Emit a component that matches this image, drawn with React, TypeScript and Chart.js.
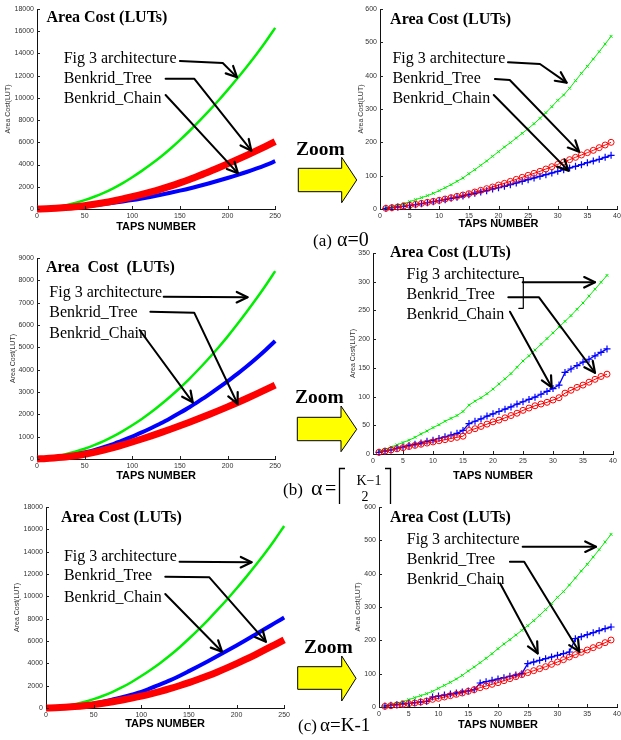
import React, { useEffect, useRef } from "react";
import { Chart, registerables } from "chart.js";

Chart.register(...registerables);

// ---------------- data ----------------
const TAPS_FULL = [0, 10, 20, 30, 40, 50, 60, 70, 80, 90, 100, 110, 120, 130, 140, 150, 160, 170, 180, 190, 200, 210, 220, 230, 240, 250];
const TAPS_ZOOM = [1, 2, 3, 4, 5, 6, 7, 8, 9, 10, 11, 12, 13, 14, 15, 16, 17, 18, 19, 20, 21, 22, 23, 24, 25, 26, 27, 28, 29, 30, 31, 32, 33, 34, 35, 36, 37, 38, 39];

// (a) alpha = 0
const A_FIG3_FULL = [0, 55, 172, 326, 540, 800, 1100, 1450, 1860, 2330, 2860, 3430, 4040, 4700, 5420, 6200, 7020, 7880, 8780, 9720, 10700, 11720, 12780, 13880, 15050, 16300];
const A_TREE_FULL = [0, 26, 72, 134, 208, 300, 420, 560, 720, 900, 1100, 1310, 1540, 1790, 2060, 2350, 2660, 2990, 3330, 3690, 4060, 4440, 4830, 5230, 5640, 6060];
const A_CHAIN_FULL = [0, 25, 64, 113, 167, 250, 340, 440, 550, 670, 800, 950, 1110, 1280, 1460, 1650, 1850, 2070, 2300, 2540, 2790, 3050, 3330, 3630, 3950, 4300];
const A_FIG3_ZOOM = [3, 7, 11, 16, 22, 28, 34, 40, 47, 55, 64, 73, 83, 93, 106, 118, 131, 144, 158, 172, 186, 199, 213, 227, 241, 256, 272, 289, 307, 326, 342, 362, 385, 407, 428, 450, 472, 495, 518];
const A_TREE_ZOOM = [2, 4, 6, 9, 11, 14, 17, 20, 23, 26, 30, 34, 38, 42, 46, 51, 56, 61, 66, 72, 77, 83, 89, 95, 101, 107, 113, 120, 127, 134, 141, 148, 155, 162, 169, 176, 184, 192, 200];
const A_CHAIN_ZOOM = [2, 4, 6, 8, 11, 13, 16, 19, 22, 25, 28, 32, 35, 39, 43, 47, 51, 55, 60, 64, 68, 73, 78, 83, 88, 93, 98, 103, 108, 113, 118, 123, 128, 133, 139, 144, 149, 155, 161];

// (b) alpha = ceil((K-1)/2)
const B_FIG3_FULL = [0, 46, 113, 211, 323, 460, 620, 800, 1010, 1250, 1510, 1790, 2100, 2440, 2800, 3180, 3590, 4030, 4490, 4970, 5480, 6020, 6580, 7160, 7770, 8410];
const B_TREE_FULL = [0, 21, 56, 94, 144, 215, 300, 400, 510, 630, 760, 895, 1035, 1180, 1330, 1485, 1645, 1810, 1980, 2155, 2335, 2520, 2710, 2905, 3105, 3310];
const B_CHAIN_FULL = [0, 24, 70, 114, 188, 290, 400, 530, 670, 830, 1000, 1190, 1390, 1600, 1830, 2070, 2320, 2590, 2870, 3170, 3480, 3800, 4140, 4500, 4880, 5280];
const B_FIG3_ZOOM = [5, 8, 12, 16, 20, 24, 29, 35, 40, 46, 51, 57, 62, 67, 74, 85, 92, 98, 105, 113, 122, 131, 140, 151, 162, 171, 181, 191, 201, 211, 221, 231, 241, 252, 263, 275, 287, 299, 311];
const B_TREE_ZOOM = [3, 5, 7, 9, 11, 13, 15, 17, 19, 21, 23, 25, 27, 29, 31, 41, 44, 48, 52, 56, 59, 63, 67, 71, 76, 80, 84, 87, 90, 94, 98, 106, 111, 116, 120, 125, 130, 135, 139];
const B_CHAIN_ZOOM = [3, 5, 7, 10, 12, 15, 17, 19, 22, 24, 27, 30, 33, 36, 41, 53, 57, 61, 66, 70, 74, 78, 82, 87, 91, 95, 99, 104, 109, 114, 120, 142, 148, 154, 160, 165, 171, 177, 183];

// (c) alpha = K-1
const C_FIG3_FULL = [0, 55, 172, 326, 540, 800, 1100, 1450, 1860, 2330, 2860, 3430, 4040, 4700, 5420, 6200, 7020, 7880, 8780, 9720, 10700, 11720, 12780, 13880, 15050, 16300];
const C_TREE_FULL = [0, 26, 72, 134, 208, 300, 420, 560, 720, 890, 1070, 1270, 1490, 1730, 1990, 2270, 2570, 2890, 3230, 3590, 3970, 4370, 4790, 5220, 5660, 6100];
const C_CHAIN_FULL = [0, 30, 84, 155, 245, 390, 560, 760, 970, 1200, 1440, 1770, 2110, 2470, 2870, 3300, 3740, 4190, 4650, 5120, 5600, 6090, 6590, 7090, 7600, 8100];
const C_FIG3_ZOOM = [3, 7, 11, 16, 22, 28, 34, 40, 47, 56, 65, 74, 84, 95, 108, 120, 133, 146, 160, 175, 189, 202, 216, 230, 244, 259, 275, 292, 310, 329, 346, 366, 387, 408, 428, 450, 472, 495, 518];
const C_TREE_ZOOM = [2, 4, 6, 8, 10, 12, 15, 18, 23, 26, 30, 34, 38, 42, 47, 52, 58, 63, 68, 73, 79, 85, 91, 97, 103, 109, 115, 121, 128, 135, 142, 150, 157, 164, 171, 178, 185, 193, 201];
const C_CHAIN_ZOOM = [3, 5, 7, 9, 11, 13, 15, 17, 30, 33, 36, 39, 42, 45, 48, 52, 72, 76, 80, 84, 88, 92, 96, 100, 130, 135, 140, 145, 150, 155, 160, 165, 205, 211, 217, 223, 229, 235, 240];

const FULL_X_TICKS = { min: 0, max: 250, step: 50 };
const ZOOM_X_TICKS = { min: 0, max: 40, step: 5 };

const LABEL_FIG3 = "Fig 3 architecture";
const LABEL_TREE = "Benkrid_Tree";
const LABEL_CHAIN = "Benkrid_Chain";

// ---------------- plugin: inward ticks + annotations ----------------
const annotPlugin = {
  id: "annot",
  afterDatasetsDraw(chart: any, _args: any, opts: any) {
    const { ctx, chartArea, scales } = chart;
    const xs = scales.x;
    const ys = scales.y;
    const X = (v: number) => xs.getPixelForValue(v);
    const Y = (v: number) => ys.getPixelForValue(v);
    ctx.save();
    // inward tick marks (MATLAB style)
    ctx.strokeStyle = "#222";
    ctx.lineWidth = 1;
    ctx.beginPath();
    xs.ticks.forEach((t: any) => {
      const px = Math.round(X(t.value)) + 0.5;
      ctx.moveTo(px, chartArea.bottom);
      ctx.lineTo(px, chartArea.bottom - 3);
    });
    ys.ticks.forEach((t: any) => {
      const py = Math.round(Y(t.value)) + 0.5;
      ctx.moveTo(chartArea.left, py);
      ctx.lineTo(chartArea.left + 3, py);
    });
    ctx.stroke();

    if (!opts || !opts.title) {
      ctx.restore();
      return;
    }
    ctx.fillStyle = "#000";
    ctx.textAlign = "left";
    ctx.textBaseline = "middle";
    ctx.font = 'bold 16px "Liberation Serif"';
    ctx.fillText(opts.title.text, X(opts.title.x), Y(opts.title.y));
    ctx.font = '16px "Liberation Serif"';
    for (const l of opts.labels) ctx.fillText(l.text, X(l.x), Y(l.y));

    ctx.strokeStyle = "#000";
    ctx.lineCap = "round";
    ctx.lineJoin = "round";
    ctx.lineWidth = 2;
    for (const pts of opts.arrows) {
      ctx.beginPath();
      pts.forEach((p: number[], i: number) => {
        const px = X(p[0]);
        const py = Y(p[1]);
        if (i === 0) ctx.moveTo(px, py);
        else ctx.lineTo(px, py);
      });
      ctx.stroke();
      const a = pts[pts.length - 2];
      const b = pts[pts.length - 1];
      const ax = X(a[0]), ay = Y(a[1]), bx = X(b[0]), by = Y(b[1]);
      const ang = Math.atan2(by - ay, bx - ax);
      const L = 12, spread = 0.45;
      ctx.lineWidth = 2.2;
      ctx.beginPath();
      ctx.moveTo(bx - L * Math.cos(ang - spread), by - L * Math.sin(ang - spread));
      ctx.lineTo(bx, by);
      ctx.lineTo(bx - L * Math.cos(ang + spread), by - L * Math.sin(ang + spread));
      ctx.stroke();
      ctx.lineWidth = 2;
    }
    ctx.lineWidth = 1.2;
    for (const pts of opts.lines || []) {
      ctx.beginPath();
      pts.forEach((p: number[], i: number) => {
        const px = X(p[0]);
        const py = Y(p[1]);
        if (i === 0) ctx.moveTo(px, py);
        else ctx.lineTo(px, py);
      });
      ctx.stroke();
    }
    ctx.restore();
  },
};

// ---------------- panel specs ----------------
const PAD_TOP = 14;

type Series = { fig3: number[]; tree: number[]; chain: number[] };

interface PanelSpec {
  key: string;
  zoom: boolean;
  taps: number[];
  series: Series;
  xTicks: { min: number; max: number; step: number };
  yMax: number;
  yStep: number;
  box: { L: number; T: number; R: number; B: number; ytX: number; xtY: number };
  annot: any;
}

const labelsAt = (x: number, ys: number[]) => [
  { x, y: ys[0], text: LABEL_FIG3 },
  { x, y: ys[1], text: LABEL_TREE },
  { x, y: ys[2], text: LABEL_CHAIN },
];

const PANELS: PanelSpec[] = [
  {
    key: "aL", zoom: false, taps: TAPS_FULL,
    series: { fig3: A_FIG3_FULL, tree: A_TREE_FULL, chain: A_CHAIN_FULL },
    xTicks: FULL_X_TICKS, yMax: 18000, yStep: 2000,
    box: { L: 37, T: 9, R: 276, B: 209, ytX: 8.3, xtY: 227 },
    annot: {
      title: { x: 10, y: 17160, text: "Area Cost (LUTs)" },
      labels: labelsAt(28, [13500, 11700, 9900]),
      arrows: [
        [[150, 13320], [195, 13140], [210, 11850]],
        [[135, 11730], [165, 11730], [225, 5250]],
        [[135, 10260], [211, 3210]],
      ],
    },
  },
  {
    key: "aR", zoom: true, taps: TAPS_ZOOM,
    series: { fig3: A_FIG3_ZOOM, tree: A_TREE_ZOOM, chain: A_CHAIN_ZOOM },
    xTicks: ZOOM_X_TICKS, yMax: 600, yStep: 100,
    box: { L: 380, T: 9, R: 617, B: 209, ytX: 360.7, xtY: 224 },
    annot: {
      title: { x: 1.7, y: 567, text: "Area Cost (LUTs)" },
      labels: labelsAt(2.1, [450, 392, 330]),
      arrows: [
        [[21.6, 440], [27, 435], [31.5, 379]],
        [[19.4, 390], [21.9, 387], [33.6, 172]],
        [[19.2, 342], [31.8, 115]],
      ],
    },
  },
  {
    key: "bL", zoom: false, taps: TAPS_FULL,
    series: { fig3: B_FIG3_FULL, tree: B_TREE_FULL, chain: B_CHAIN_FULL },
    xTicks: FULL_X_TICKS, yMax: 9000, yStep: 1000,
    box: { L: 37, T: 258, R: 276, B: 459, ytX: 12.7, xtY: 476 },
    annot: {
      title: { x: 9.4, y: 8540, text: "Area  Cost  (LUTs)" },
      labels: labelsAt(12.9, [7447, 6525, 5584]),
      arrows: [
        [[133, 7268], [221, 7241]],
        [[119, 6596], [165, 6551], [210.6, 2463]],
        [[107.7, 5777], [163.5, 2539]],
      ],
    },
  },
  {
    key: "bR", zoom: true, taps: TAPS_ZOOM,
    series: { fig3: B_FIG3_ZOOM, tree: B_TREE_ZOOM, chain: B_CHAIN_ZOOM },
    xTicks: ZOOM_X_TICKS, yMax: 350, yStep: 50,
    box: { L: 373, T: 253, R: 613, B: 454, ytX: 353.3, xtY: 476.7 },
    annot: {
      title: { x: 2.83, y: 350, text: "Area Cost (LUTs)" },
      labels: labelsAt(5.6, [311.6, 276.8, 242]),
      arrows: [
        [[24.95, 299], [37, 299]],
        [[22.55, 272.8], [27.67, 272.8], [37, 141.5]],
        [[22.83, 247.7], [29.78, 116.1]],
      ],
      lines: [[[24.3, 307.3], [25.05, 307.3], [25.05, 253.7], [24.3, 253.7]]],
    },
  },
  {
    key: "cL", zoom: false, taps: TAPS_FULL,
    series: { fig3: C_FIG3_FULL, tree: C_TREE_FULL, chain: C_CHAIN_FULL },
    xTicks: FULL_X_TICKS, yMax: 18000, yStep: 2000,
    box: { L: 46, T: 507, R: 285, B: 708, ytX: 16.7, xtY: 724.7 },
    annot: {
      title: { x: 15.7, y: 17060, text: "Area Cost (LUTs)" },
      labels: labelsAt(18.8, [13549, 11821, 9913]),
      arrows: [
        [[140.2, 13101], [215.8, 13047]],
        [[125.2, 11758], [171.5, 11704], [230.8, 5937]],
        [[125.2, 10209], [184.8, 5042]],
      ],
    },
  },
  {
    key: "cR", zoom: true, taps: TAPS_ZOOM,
    series: { fig3: C_FIG3_ZOOM, tree: C_TREE_ZOOM, chain: C_CHAIN_ZOOM },
    xTicks: ZOOM_X_TICKS, yMax: 600, yStep: 100,
    box: { L: 379, T: 507, R: 617, B: 707, ytX: 358.3, xtY: 725 },
    annot: {
      title: { x: 1.85, y: 567, text: "Area Cost (LUTs)" },
      labels: labelsAt(4.66, [503, 441, 381]),
      arrows: [
        [[24.15, 481], [36.47, 481]],
        [[22, 436], [24.4, 436], [33.66, 166]],
        [[20.34, 371], [26.67, 161]],
      ],
    },
  },
];

function geometry(b: PanelSpec["box"]) {
  const cl = Math.round(b.ytX - 4.2);
  const ct = b.T - PAD_TOP;
  const yW = b.L - cl;
  const cw = Math.ceil(b.R + 8 - cl);
  const padRight = cl + cw - b.R;
  const ch = Math.round(b.xtY + 6.6 - ct);
  const xH = ch - (b.B - ct);
  return { cl, ct, cw, ch, yW, xH, padRight };
}

const RED = "#ff0000";
const BLUE = "#0000ff";
const GREEN = "#00ee00";

function buildConfig(p: PanelSpec) {
  const g = geometry(p.box);
  const pts = (vals: number[]) => p.taps.map((t, i) => ({ x: t, y: vals[i] }));
  const datasets = p.zoom
    ? [
        {
          data: pts(p.series.tree), borderColor: RED, borderWidth: 1, order: 0,
          pointStyle: "circle", pointRadius: 3, pointBorderWidth: 1,
          pointBorderColor: RED, pointBackgroundColor: "rgba(0,0,0,0)", clip: false,
        },
        {
          data: pts(p.series.chain), borderColor: BLUE, borderWidth: 1.3, order: 1,
          pointStyle: "cross", pointRadius: 3.5, pointBorderWidth: 1.2,
          pointBorderColor: BLUE, clip: false,
        },
        {
          data: pts(p.series.fig3), borderColor: GREEN, borderWidth: 1, order: 2,
          pointStyle: "crossRot", pointRadius: 2, pointBorderWidth: 1,
          pointBorderColor: GREEN, clip: false,
        },
      ]
    : [
        {
          data: pts(p.series.tree), borderColor: RED, borderWidth: 7, order: 0,
          pointRadius: 0, cubicInterpolationMode: "monotone", clip: false,
        },
        {
          data: pts(p.series.chain), borderColor: BLUE, borderWidth: 4, order: 1,
          pointRadius: 0, cubicInterpolationMode: "monotone", clip: false,
        },
        {
          data: pts(p.series.fig3), borderColor: GREEN, borderWidth: 2.5, order: 2,
          pointRadius: 0, cubicInterpolationMode: "monotone", clip: false,
        },
      ];

  const tickFont = { family: '"Liberation Sans", Arial, sans-serif', size: 7 };
  const plain = (v: any) => String(v);
  return {
    type: "line",
    data: { datasets },
    plugins: [annotPlugin],
    options: {
      animation: false,
      responsive: false,
      maintainAspectRatio: false,
      events: [],
      layout: { padding: { top: PAD_TOP, right: g.padRight, left: 0, bottom: 0 } },
      plugins: {
        legend: { display: false },
        tooltip: { enabled: false },
        annot: p.annot,
      },
      scales: {
        x: {
          type: "linear",
          min: p.xTicks.min,
          max: p.xTicks.max,
          ticks: { stepSize: p.xTicks.step, font: tickFont, color: "#333", padding: 3, maxRotation: 0, autoSkip: false, callback: plain },
          grid: { display: false, drawTicks: false },
          border: { display: true, color: "#111", width: 1 },
          title: {
            display: true, text: "TAPS NUMBER", color: "#000", padding: 0,
            font: { family: '"Liberation Sans", Arial, sans-serif', size: 11, weight: "bold" },
          },
          afterFit: (s: any) => { s.height = g.xH; },
        },
        y: {
          type: "linear",
          min: 0,
          max: p.yMax,
          ticks: { stepSize: p.yStep, font: tickFont, color: "#333", padding: 3, autoSkip: false, callback: plain },
          grid: { display: false, drawTicks: false },
          border: { display: true, color: "#111", width: 1 },
          title: {
            display: true, text: "Area Cost(LUT)", color: "#333", padding: 0,
            font: { family: '"Liberation Sans", Arial, sans-serif', size: 7 },
          },
          afterFit: (s: any) => { s.width = g.yW; },
        },
      },
    },
  };
}

function Panel({ spec }: { spec: PanelSpec }) {
  const ref = useRef<HTMLCanvasElement>(null);
  const g = geometry(spec.box);
  useEffect(() => {
    const chart = new Chart(ref.current as HTMLCanvasElement, buildConfig(spec) as any);
    return () => chart.destroy();
  }, [spec]);
  return (
    <canvas
      ref={ref}
      width={g.cw}
      height={g.ch}
      style={{ position: "absolute", left: g.cl, top: g.ct, width: g.cw, height: g.ch }}
    />
  );
}

// ---------------- "Zoom" arrows & captions ----------------
const ZOOM_MARKS = [
  { tx: 296, ty: 155, bodyL: 298.3, bodyT: 168.3, bodyB: 191.7, headX: 341.7, headT: 157.3, headB: 202.7, tipX: 356.7, tipY: 180 },
  { tx: 295, ty: 403, bodyL: 297.3, bodyT: 417.3, bodyB: 440.7, headX: 341, headT: 406, headB: 451.7, tipX: 356.7, tipY: 429.3 },
  { tx: 304, ty: 653, bodyL: 297.7, bodyT: 666.7, bodyB: 689.3, headX: 341.7, headT: 656, headB: 701, tipX: 356, tipY: 678.3 },
];

function Overlay() {
  return (
    <svg
      width={621}
      height={740}
      style={{ position: "absolute", left: 0, top: 0, pointerEvents: "none" }}
      fontFamily='"Liberation Serif", "Times New Roman", serif'
    >
      {ZOOM_MARKS.map((m, i) => (
        <g key={i}>
          <text x={m.tx} y={m.ty} fontSize={19.5} fontWeight="bold" fill="#000">Zoom</text>
          <polygon
            points={`${m.bodyL},${m.bodyT} ${m.headX},${m.bodyT} ${m.headX},${m.headT} ${m.tipX},${m.tipY} ${m.headX},${m.headB} ${m.headX},${m.bodyB} ${m.bodyL},${m.bodyB}`}
            fill="#ffff00"
            stroke="#000"
            strokeWidth={1}
          />
        </g>
      ))}
      {/* (a) */}
      <text x={313} y={246} fontSize={17} fill="#000">(a)</text>
      <text x={337} y={246} fontSize={20} fill="#000">α=0</text>
      {/* (b) */}
      <text x={283} y={495} fontSize={17} fill="#000">(b)</text>
      <text x={311} y={495} fontSize={22} fill="#000">α</text>
      <text x={325} y={495} fontSize={20} fill="#000">=</text>
      <path d="M345 468.5 H339.5 V504" stroke="#000" strokeWidth={1.3} fill="none" />
      <text x={369} y={485} fontSize={14} textAnchor="middle" fill="#000">K−1</text>
      <text x={365} y={501} fontSize={14} textAnchor="middle" fill="#000">2</text>
      <path d="M385 468.5 H390.5 V504" stroke="#000" strokeWidth={1.3} fill="none" />
      {/* (c) */}
      <text x={298} y={731} fontSize={17} fill="#000">(c)</text>
      <text x={320} y={731} fontSize={19} fill="#000">α=K-1</text>
    </svg>
  );
}

export default function App() {
  return (
    <div
      style={{
        position: "absolute",
        left: 0,
        top: 0,
        width: 621,
        height: 740,
        overflow: "hidden",
        background: "#fff",
      }}
    >
      {PANELS.map((p) => (
        <Panel key={p.key} spec={p} />
      ))}
      <Overlay />
    </div>
  );
}
